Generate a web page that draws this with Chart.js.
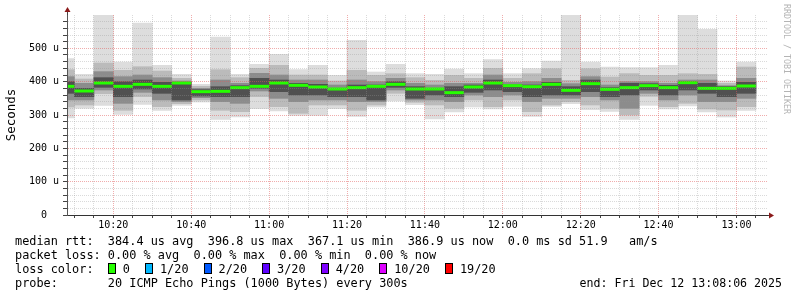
<!DOCTYPE html>
<html lang="en">
<head>
  <meta charset="UTF-8">
  <title>SmokePing – median rtt</title>
  <script src="https://cdn.jsdelivr.net/npm/chart.js"></script>
  <style>
    body {
      margin: 0;
      background: #fff;
    }
    #wrap {
      position: relative;
      width: 797px;
      height: 297px;
      overflow: hidden;
    }
    canvas {
      position: absolute;
      left: 0;
      top: 0;
    }
    .legend {
      position: absolute;
      left: 15px;
      top: 234px;
      font: 11.86px "DejaVu Sans Mono", monospace;
      line-height: 14.1px;
      white-space: pre;
      color: #000;
    }
    .box {
      display: inline-block;
      width: 6px;
      height: 9px;
      border: 1px solid #000;
      margin: 0 7px 0 0;
      vertical-align: -1px;
    }
    .lab {
      margin-right: 15px;
    }
    .end {
      position: absolute;
      right: 15px;
      top: 276.3px;
      font: 11.6px "DejaVu Sans Mono", monospace;
      line-height: 14.1px;
      white-space: pre;
    }
    .credit {
      position: absolute;
      left: 782px;
      top: 4px;
      writing-mode: vertical-rl;
      font: 8.3px "DejaVu Sans Mono", monospace;
      color: #b4b4b4;
    }
  </style>
</head>
<body>
<div id="wrap">
  <canvas id="rtt" width="797" height="297"></canvas>
  <div class="legend"><div>median rtt:  384.4 us avg  396.8 us max  367.1 us min  386.9 us now  0.0 ms sd 51.9   am/s</div><div>packet loss: 0.00 % avg  0.00 % max  0.00 % min  0.00 % now</div><div id="lossRow">loss color:  </div><div>probe:       20 ICMP Echo Pings (1000 Bytes) every 300s</div></div>
  <div class="end">end: Fri Dec 12 13:08:06 2025</div>
  <div class="credit">RRDTOOL / TOBI OETIKER</div>
</div>

<script>
  // 5 minute bins, labelled by their end time (µs values)
  const binEnds = [
    '10:10', '10:15', '10:20', '10:25', '10:30', '10:35', '10:40', '10:45', '10:50', '10:55',
    '11:00', '11:05', '11:10', '11:15', '11:20', '11:25', '11:30', '11:35', '11:40', '11:45',
    '11:50', '11:55', '12:00', '12:05', '12:10', '12:15', '12:20', '12:25', '12:30', '12:35',
    '12:40', '12:45', '12:50', '12:55', '13:00', '13:05'
  ];
  const pingMin = [291, 320, 329, 302, 332, 314, 329, 339, 287, 294, 319, 312, 299, 299, 319, 296, 324, 342,
                   331, 288, 309, 324, 318, 326, 296, 326, 334, 316, 311, 287, 329, 318, 327, 309, 294, 314];
  const pingMax = [469, 422, 600, 459, 576, 449, 422, 392, 534, 422, 452, 482, 436, 449, 419, 524, 429, 452,
                   424, 422, 438, 424, 466, 424, 439, 462, 600, 459, 444, 442, 442, 449, 600, 557, 402, 459];
  const band2Low = [324, 330, 364, 314, 355, 325, 334, 345, 314, 310, 355, 325, 305, 330, 330, 314, 330, 365,
                    338, 330, 320, 345, 325, 345, 310, 330, 340, 330, 320, 300, 356, 325, 335, 318, 315, 325];
  const band2High = [436, 408, 456, 434, 445, 432, 410, 386, 436, 412, 440, 449, 420, 420, 402, 434, 419, 424,
                     412, 404, 419, 410, 440, 410, 424, 439, 404, 439, 414, 424, 419, 419, 424, 422, 395, 444];
  const band3Low = [345, 345, 375, 335, 368, 345, 340, 352, 340, 335, 372, 350, 340, 345, 345, 340, 340, 375,
                    345, 345, 340, 360, 355, 360, 340, 350, 350, 355, 345, 320, 365, 345, 360, 340, 340, 350];
  const band3High = [415, 395, 430, 415, 420, 412, 402, 380, 405, 395, 425, 420, 405, 405, 390, 405, 400, 410,
                     395, 390, 395, 395, 420, 398, 400, 410, 394, 415, 390, 400, 400, 395, 405, 405, 388, 410];
  const coreLow = [365, 355, 383, 355, 378, 365, 345, 357, 355, 355, 380, 370, 360, 360, 355, 355, 345, 383,
                   350, 360, 355, 368, 375, 370, 355, 360, 360, 370, 355, 360, 375, 360, 375, 365, 355, 365];
  const coreHigh = [400, 380, 412, 400, 405, 398, 398, 376, 385, 388, 410, 405, 395, 392, 380, 390, 390, 400,
                    385, 380, 385, 390, 405, 390, 390, 398, 385, 405, 382, 395, 394, 389, 400, 395, 385, 398];
  const medianRtt = [386, 372, 396, 386, 392, 386, 396, 370, 371, 382, 386, 396, 389, 384, 378, 382, 386, 392,
                     378, 378, 367, 384, 396, 388, 385, 392, 374, 394, 377, 382, 388, 382, 397, 380, 380, 387];

  const lossLabels = ['0', '1/20', '2/20', '3/20', '4/20', '10/20', '19/20'];
  const lossColors = ['#26ff00', '#00b8ff', '#0059ff', '#5e00ff', '#7e00ff', '#dd00ff', '#ff0000'];

  const graphStart = '10:08:06';
  const graphEnd = '13:08:06';
  const stepMinutes = 5;

  function toMinutes(t) {
    const [h, m, s = 0] = t.split(':').map(Number);
    return h * 60 + m + s / 60;
  }
  function hhmm(min) {
    const h = Math.floor(min / 60), m = Math.round(min % 60);
    return String(h).padStart(2, '0') + ':' + String(m).padStart(2, '0');
  }

  const centers = binEnds.map(t => toMinutes(t) - stepMinutes / 2);

  function band(label, lows, highs, color, order) {
    return {
      type: 'bar',
      label: label,
      order: order,
      data: centers.map((x, i) => ({ x: x, y: [lows[i], highs[i]] })),
      backgroundColor: color,
      borderWidth: 0,
      grouped: false,
      barPercentage: 1,
      categoryPercentage: 1,
      clip: 0
    };
  }

  // loss colour legend
  const row = document.getElementById('lossRow');
  lossLabels.forEach((l, i) => {
    const b = document.createElement('span');
    b.className = 'box';
    b.style.background = lossColors[i];
    const s = document.createElement('span');
    s.className = 'lab';
    s.textContent = l;
    row.appendChild(b);
    row.appendChild(s);
  });

  const minor = 'rgba(150,150,150,0.35)';
  const major = 'rgba(225,90,90,0.5)';

  const axisArrows = {
    id: 'axisArrows',
    afterDraw(chart) {
      const { ctx, chartArea: a } = chart;
      const x0 = Math.round(a.left) + 0.5, y0 = Math.round(a.bottom) + 0.5;
      ctx.save();
      ctx.strokeStyle = '#444';
      ctx.lineWidth = 1;
      ctx.beginPath();
      ctx.moveTo(x0, a.top);
      ctx.lineTo(x0, a.top - 4);
      ctx.moveTo(a.right, y0);
      ctx.lineTo(a.right + 3, y0);
      ctx.stroke();
      ctx.fillStyle = '#8b1a1a';
      ctx.beginPath();
      ctx.moveTo(x0, a.top - 8);
      ctx.lineTo(x0 - 3, a.top - 3);
      ctx.lineTo(x0 + 3, a.top - 3);
      ctx.fill();
      ctx.beginPath();
      ctx.moveTo(a.right + 6, y0);
      ctx.lineTo(a.right + 1, y0 - 3);
      ctx.lineTo(a.right + 1, y0 + 3);
      ctx.fill();
      ctx.restore();
    }
  };

  Chart.defaults.font.family = '"DejaVu Sans Mono", monospace';
  Chart.defaults.color = '#000';

  new Chart(document.getElementById('rtt'), {
    type: 'bar',
    data: {
      datasets: [
        {
          type: 'line',
          label: 'median rtt',
          order: 0,
          data: centers.map((x, i) => ({ x: x, y: medianRtt[i] })),
          showLine: false,
          pointStyle: 'line',
          pointRadius: c => (c.chart.scales.x.getPixelForValue(stepMinutes) - c.chart.scales.x.getPixelForValue(0)) / 2,
          pointBorderWidth: 3,
          pointBorderColor: lossColors[0],
          borderColor: lossColors[0],
          clip: 0
        },
        band('core', coreLow, coreHigh, '#505050', 1),
        band('inner', band3Low, band3High, '#8c8c8c', 2),
        band('middle', band2Low, band2High, '#bbbbbb', 3),
        band('min/max', pingMin, pingMax, '#dddddd', 4)
      ]
    },
    options: {
      responsive: false,
      animation: false,
      events: [],
      layout: { padding: { left: 0, top: 15, right: 29, bottom: 62 } },
      plugins: { legend: { display: false }, tooltip: { enabled: false } },
      scales: {
        x: {
          type: 'linear',
          offset: false,
          min: toMinutes(graphStart),
          max: toMinutes(graphEnd),
          afterBuildTicks: s => {
            const ticks = [];
            for (let t = toMinutes(binEnds[0]); t < s.max; t += stepMinutes) ticks.push({ value: t });
            s.ticks = ticks;
          },
          afterFit: s => { s.height = 20; },
          grid: {
            offset: false,
            z: 1,
            color: c => (c.tick && c.tick.value % 20 === 0 ? major : minor),
            tickColor: '#444',
            tickLength: 3
          },
          border: { color: '#333', z: 2, dash: [1, 1] },
          ticks: {
            autoSkip: false,
            maxRotation: 0,
            padding: 1,
            font: { size: 10 },
            callback: v => (v % 20 === 0 ? hhmm(v) : '')
          }
        },
        y: {
          min: 0,
          max: 600,
          afterBuildTicks: s => {
            const ticks = [];
            for (let v = 0; v < 600; v += 20) ticks.push({ value: v });
            s.ticks = ticks;
          },
          afterFit: s => { s.width = 67; },
          grid: {
            z: 1,
            color: c => (c.tick && c.tick.value % 100 === 0 ? major : minor),
            tickColor: '#444',
            tickLength: 4
          },
          border: { color: '#555', z: 2, dash: [1, 1] },
          title: {
            display: true,
            text: 'Seconds',
            font: { size: 12.5 }
          },
          ticks: {
            autoSkip: false,
            padding: 4,
            font: { size: 10 },
            callback: v => (v % 100 === 0 ? (v === 0 ? '0  ' : v + ' u') : '')
          }
        }
      }
    },
    plugins: [axisArrows]
  });
</script>
</body>
</html>
